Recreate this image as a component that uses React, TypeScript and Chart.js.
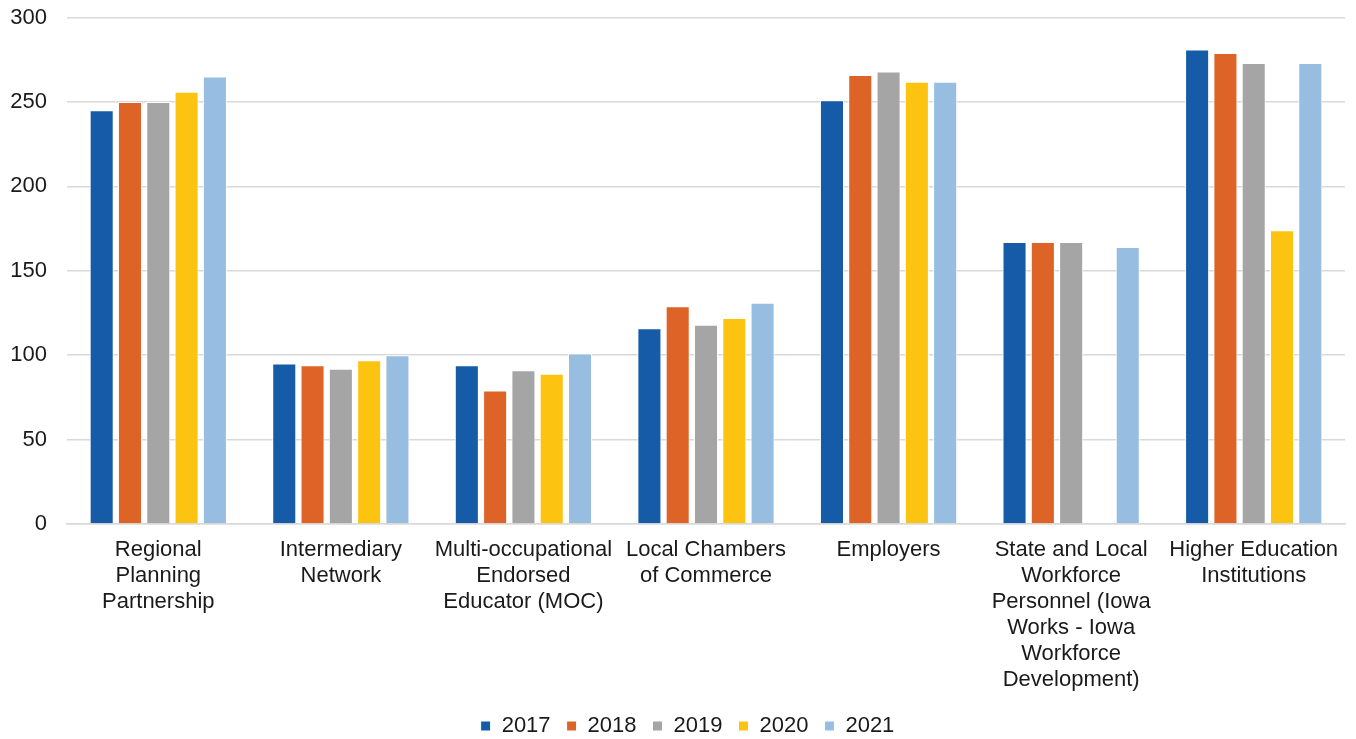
import React, { useEffect, useRef } from "react";
import { Chart, registerables } from "chart.js";

Chart.register(...registerables);

const categories: string[][] = [
  ["Regional", "Planning", "Partnership"],
  ["Intermediary", "Network"],
  ["Multi-occupational", "Endorsed", "Educator (MOC)"],
  ["Local Chambers", "of Commerce"],
  ["Employers"],
  ["State and Local", "Workforce", "Personnel (Iowa", "Works - Iowa", "Workforce", "Development)"],
  ["Higher Education", "Institutions"],
];

const years = ["2017", "2018", "2019", "2020", "2021"];
const values2017 = [245, 95, 94, 116, 251, 167, 281];
const values2018 = [250, 94, 79, 129, 266, 167, 279];
const values2019 = [250, 92, 91, 118, 268, 167, 273];
const values2020 = [256, 97, 89, 122, 262, null, 174];
const values2021 = [265, 100, 101, 131, 262, 164, 273];
const colors = ["#155BA7", "#DD6426", "#A5A5A5", "#FDC311", "#97BDE0"];

const FONT = "'Liberation Sans', Arial, sans-serif";

const legendShift = {
  id: "legendShift",
  afterLayout(chart: any) {
    if (chart.legend) chart.legend.left += 20;
  },
};

export default function App() {
  const ref = useRef<HTMLCanvasElement | null>(null);
  useEffect(() => {
    if (!ref.current) return;
    const series = [values2017, values2018, values2019, values2020, values2021];
    const chart = new Chart(ref.current, {
      type: "bar",
      data: {
        labels: categories,
        datasets: series.map((v, i) => ({
          label: years[i],
          data: v,
          backgroundColor: colors[i],
          borderColor: "#ffffff",
          borderWidth: 1,
          categoryPercentage: 0.775,
          barPercentage: 0.85,
        })),
      },
      plugins: [legendShift],
      options: {
        animation: false,
        responsive: false,
        maintainAspectRatio: false,
        layout: { padding: { left: 10, right: 11, top: 0, bottom: 0 } },
        plugins: {
          legend: {
            position: "bottom",
            maxHeight: 40,
            labels: {
              boxWidth: 10,
              boxHeight: 10,
              padding: 16,
              color: "#1a1a1a",
              font: { family: FONT, size: 22 },
            },
          },
          tooltip: { enabled: false },
        },
        scales: {
          x: {
            grid: { display: false, drawTicks: false },
            border: { display: true, color: "#d9d9d9", width: 1.5 },
            afterFit: (scale: any) => {
              scale.height = 175;
              scale.paddingLeft = 0;
              scale.paddingRight = 0;
            },
            ticks: {
              color: "#1a1a1a",
              maxRotation: 0,
              autoSkip: false,
              padding: 13,
              font: { family: FONT, size: 22, lineHeight: 1.182 },
            },
          },
          y: {
            min: 0,
            max: 300,
            grid: { color: "#d9d9d9", lineWidth: 1.5, drawTicks: false },
            border: { display: false },
            afterFit: (scale: any) => {
              scale.width = 57;
              scale.paddingTop = 17.5;
              scale.paddingBottom = 0;
            },
            ticks: {
              stepSize: 50,
              color: "#1a1a1a",
              padding: 20,
              font: { family: FONT, size: 22 },
            },
          },
        },
      },
    });
    return () => chart.destroy();
  }, []);
  return (
    <div style={{ position: "absolute", left: 0, top: 0, width: 1356, height: 739, background: "#fff" }}>
      <canvas ref={ref} width={1356} height={739} style={{ width: 1356, height: 739, display: "block" }} />
    </div>
  );
}
